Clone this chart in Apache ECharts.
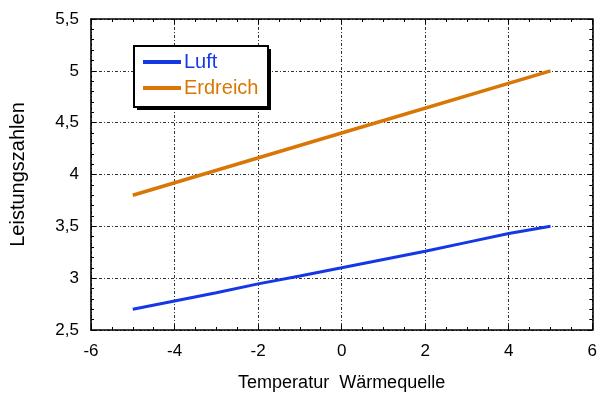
<!DOCTYPE html>
<html><head><meta charset="utf-8">
<script src="https://cdn.jsdelivr.net/npm/echarts@6/dist/echarts.min.js"></script>
<style>html,body{margin:0;padding:0;background:#fff}#c{width:600px;height:397px}</style>
</head><body><div id="c"></div>
<script>
const xLuft = [-5, -4, -3, -2, -1, 0, 1, 2, 3, 4, 5];
const yLuft = [2.70, 2.78, 2.86, 2.945, 3.02, 3.10, 3.18, 3.26, 3.345, 3.43, 3.50];
const xErd = [-5, 0, 5];
const yErd = [3.80, 4.40, 5.00];
const seriesNames = ['Luft', 'Erdreich'];
const colors = ['#1538e6', '#d97706'];
const xTitle = 'Temperatur  Wärmequelle';
const yTitle = 'Leistungszahlen';

const fmt = v => String(v).replace('.', ',');
const font = 'Liberation Sans, Arial, sans-serif';
const chart = echarts.init(document.getElementById('c'));
const grid = {left: 89, right: 6, top: 19, bottom: 66};
const splitLine = {show: true, lineStyle: {color: '#333', width: 1, type: [3, 2, 1, 2]}};
const baseX = {
  type: 'value', min: -6, max: 6, interval: 2,
  axisLine: {show: true, onZero: false, lineStyle: {color: '#000', width: 1.6}},
  axisTick: {show: true, inside: true, length: 5, lineStyle: {color: '#000'}},
  minorTick: {show: true, splitNumber: 4, length: 3, lineStyle: {color: '#000'}},
};
const baseY = {
  type: 'value', min: 2.5, max: 5.5, interval: 0.5,
  axisLine: {show: true, onZero: false, lineStyle: {color: '#000', width: 1.6}},
  axisTick: {show: true, inside: true, length: 5, lineStyle: {color: '#000'}},
  minorTick: {show: true, splitNumber: 5, length: 3, lineStyle: {color: '#000'}},
};
chart.setOption({
  animation: false,
  backgroundColor: '#fff',
  grid: grid,
  graphic: [
    {type: 'rect', z: 3, shape: {x: 137, y: 49, width: 134, height: 61}, style: {fill: '#000'}},
    {type: 'rect', z: 3, shape: {x: 134, y: 46, width: 134, height: 61}, style: {fill: '#fff', stroke: '#000', lineWidth: 2}}
  ],
  legend: {
    z: 6,
    data: [
      {name: seriesNames[0], textStyle: {color: colors[0]}},
      {name: seriesNames[1], textStyle: {color: colors[1]}}
    ],
    orient: 'vertical', left: 143, top: 52,
    itemWidth: 38, itemHeight: 4, itemGap: 6,
    padding: 0,
    textStyle: {fontFamily: font, fontSize: 20, padding: [0, 0, 0, -2]},
    icon: 'rect'
  },
  xAxis: [
    Object.assign({}, baseX, {
      position: 'bottom', splitLine: splitLine,
      axisLabel: {fontFamily: font, fontSize: 17, color: '#000', margin: 13},
      name: xTitle, nameLocation: 'middle', nameGap: 44,
      nameTextStyle: {fontFamily: font, fontSize: 18, color: '#000'}
    }),
    Object.assign({}, baseX, {position: 'top', axisLabel: {show: false}, splitLine: {show: false}})
  ],
  yAxis: [
    Object.assign({}, baseY, {
      position: 'left', splitLine: splitLine,
      axisLabel: {fontFamily: font, fontSize: 17, color: '#000', margin: 12, formatter: fmt},
      name: yTitle, nameLocation: 'middle', nameGap: 63, nameRotate: 90,
      nameTextStyle: {fontFamily: font, fontSize: 20, color: '#000'}
    }),
    Object.assign({}, baseY, {position: 'right', axisLabel: {show: false}, splitLine: {show: false}})
  ],
  series: [
    {name: seriesNames[0], type: 'line', data: xLuft.map((x, i) => [x, yLuft[i]]),
     showSymbol: false, color: colors[0], lineStyle: {width: 3, color: colors[0]}},
    {name: seriesNames[1], type: 'line', data: xErd.map((x, i) => [x, yErd[i]]),
     showSymbol: false, color: colors[1], lineStyle: {width: 3.5, color: colors[1]}}
  ]
});
</script></body></html>
